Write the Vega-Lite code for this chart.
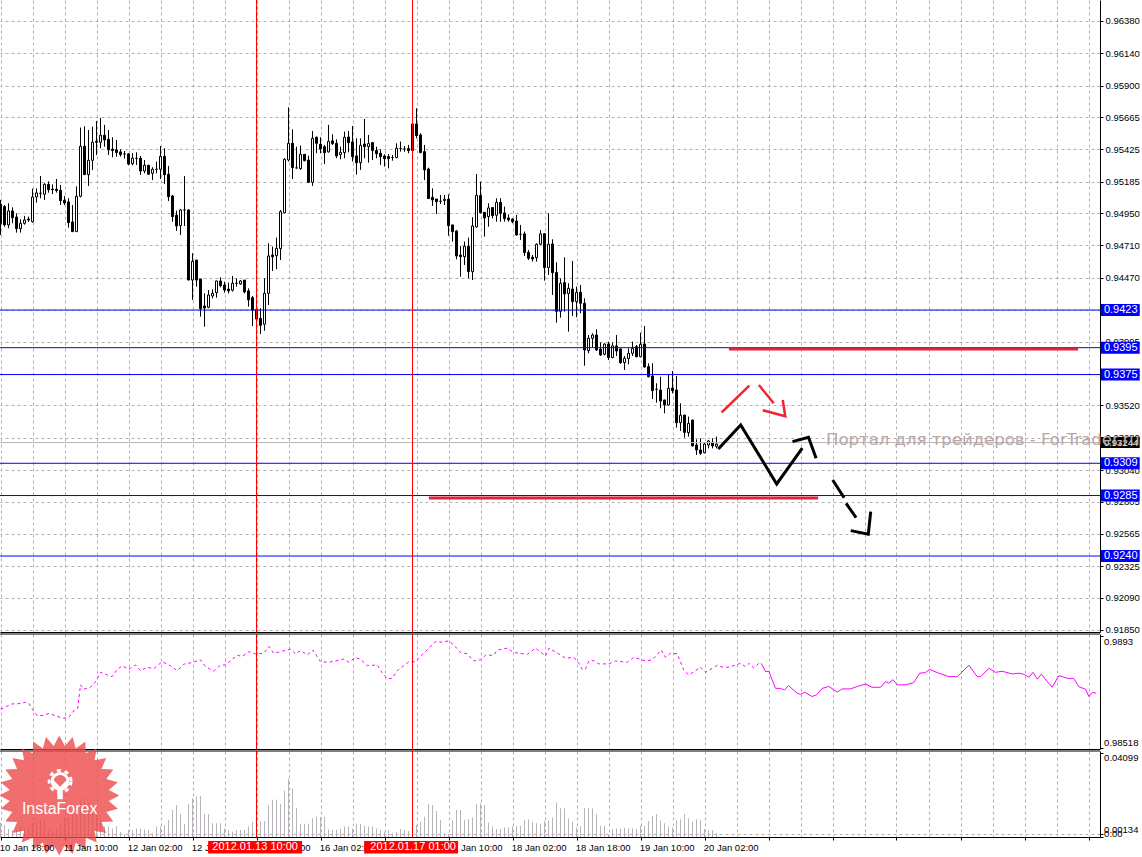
{"$schema":"https://vega.github.io/schema/vega-lite/v6.json","background":"#ffffff","padding":{"left":-2,"top":-1,"right":0,"bottom":0},"bounds":"flush","spacing":2,
"config":{"view":{"stroke":null},"font":"Liberation Sans","axis":{"labelFont":"Liberation Sans","labelFontSize":9.5,"labelColor":"#000000","title":null,"labelBound":false,"labelFlush":false}},
"datasets":{
"candles":[
{"i":0,"o":0.95016,"h":0.95049,"l":0.94788,"c":0.94875,"v":0.007},
{"i":1,"o":0.94999,"h":0.95011,"l":0.9485,"c":0.94863,"v":0.0059},
{"i":2,"o":0.94863,"h":0.95024,"l":0.94838,"c":0.94967,"v":0.0039},
{"i":3,"o":0.94967,"h":0.94994,"l":0.94875,"c":0.94917,"v":0.0034},
{"i":4,"o":0.94922,"h":0.94949,"l":0.94806,"c":0.94835,"v":0.0034},
{"i":5,"o":0.94835,"h":0.94905,"l":0.94806,"c":0.94875,"v":0.0051},
{"i":6,"o":0.94875,"h":0.9493,"l":0.94865,"c":0.949,"v":0.0037},
{"i":7,"o":0.94907,"h":0.94925,"l":0.94885,"c":0.949,"v":0.0042},
{"i":8,"o":0.94887,"h":0.95133,"l":0.9488,"c":0.95071,"v":0.0067},
{"i":9,"o":0.95071,"h":0.95135,"l":0.95029,"c":0.95101,"v":0.0075},
{"i":10,"o":0.95098,"h":0.95227,"l":0.95061,"c":0.95098,"v":0.0083},
{"i":11,"o":0.95091,"h":0.95173,"l":0.95049,"c":0.95165,"v":0.0083},
{"i":12,"o":0.95165,"h":0.95187,"l":0.95103,"c":0.95125,"v":0.0034},
{"i":13,"o":0.9513,"h":0.95165,"l":0.95093,"c":0.95125,"v":0.0026},
{"i":14,"o":0.95128,"h":0.95205,"l":0.95103,"c":0.95118,"v":0.0042},
{"i":15,"o":0.9512,"h":0.9516,"l":0.95011,"c":0.95044,"v":0.0067},
{"i":16,"o":0.95046,"h":0.95078,"l":0.95011,"c":0.95026,"v":0.0091},
{"i":17,"o":0.95034,"h":0.95061,"l":0.94843,"c":0.9488,"v":0.0099},
{"i":18,"o":0.94885,"h":0.95011,"l":0.94813,"c":0.94813,"v":0.0124},
{"i":19,"o":0.94813,"h":0.9515,"l":0.94813,"c":0.95076,"v":0.0148},
{"i":20,"o":0.95076,"h":0.95587,"l":0.95068,"c":0.95448,"v":0.0189},
{"i":21,"o":0.95448,"h":0.95597,"l":0.95235,"c":0.95237,"v":0.0189},
{"i":22,"o":0.95237,"h":0.95569,"l":0.95153,"c":0.95344,"v":0.0165},
{"i":23,"o":0.95344,"h":0.95594,"l":0.95272,"c":0.95478,"v":0.0124},
{"i":24,"o":0.95485,"h":0.95636,"l":0.95383,"c":0.95478,"v":0.0108},
{"i":25,"o":0.95478,"h":0.95659,"l":0.95433,"c":0.9553,"v":0.0091},
{"i":26,"o":0.9553,"h":0.95607,"l":0.95445,"c":0.95495,"v":0.0051},
{"i":27,"o":0.955,"h":0.95569,"l":0.95383,"c":0.95421,"v":0.0051},
{"i":28,"o":0.95426,"h":0.95515,"l":0.95366,"c":0.95416,"v":0.0042},
{"i":29,"o":0.95421,"h":0.95495,"l":0.95371,"c":0.95401,"v":0.0051},
{"i":30,"o":0.95406,"h":0.95426,"l":0.95371,"c":0.95386,"v":0.0026},
{"i":31,"o":0.95391,"h":0.95413,"l":0.95356,"c":0.95391,"v":0.0015},
{"i":32,"o":0.95391,"h":0.95396,"l":0.95307,"c":0.95316,"v":0.0034},
{"i":33,"o":0.95319,"h":0.95396,"l":0.95307,"c":0.95359,"v":0.0034},
{"i":34,"o":0.95359,"h":0.95403,"l":0.95309,"c":0.95359,"v":0.0042},
{"i":35,"o":0.95359,"h":0.95376,"l":0.95235,"c":0.95264,"v":0.0042},
{"i":36,"o":0.95264,"h":0.95346,"l":0.95247,"c":0.95307,"v":0.0037},
{"i":37,"o":0.95307,"h":0.95309,"l":0.95235,"c":0.9524,"v":0.0034},
{"i":38,"o":0.95247,"h":0.95292,"l":0.95197,"c":0.95277,"v":0.0018},
{"i":39,"o":0.95277,"h":0.95334,"l":0.95247,"c":0.95277,"v":0.0051},
{"i":40,"o":0.95277,"h":0.9545,"l":0.95205,"c":0.95373,"v":0.0051},
{"i":41,"o":0.95373,"h":0.95433,"l":0.95168,"c":0.95237,"v":0.0059},
{"i":42,"o":0.9524,"h":0.95302,"l":0.95041,"c":0.95073,"v":0.0083},
{"i":43,"o":0.95078,"h":0.95086,"l":0.94887,"c":0.94925,"v":0.0132},
{"i":44,"o":0.94935,"h":0.94969,"l":0.94818,"c":0.94855,"v":0.0156},
{"i":45,"o":0.94858,"h":0.94982,"l":0.94788,"c":0.94974,"v":0.0112},
{"i":46,"o":0.94974,"h":0.95227,"l":0.94855,"c":0.94974,"v":0.0064},
{"i":47,"o":0.94974,"h":0.94979,"l":0.94453,"c":0.94453,"v":0.0161},
{"i":48,"o":0.94453,"h":0.94652,"l":0.94305,"c":0.94592,"v":0.0189},
{"i":49,"o":0.94602,"h":0.94602,"l":0.94404,"c":0.94453,"v":0.0197},
{"i":50,"o":0.94461,"h":0.94461,"l":0.94181,"c":0.9424,"v":0.02},
{"i":51,"o":0.9426,"h":0.94354,"l":0.94106,"c":0.94245,"v":0.0112},
{"i":52,"o":0.9425,"h":0.94379,"l":0.94243,"c":0.94342,"v":0.0112},
{"i":53,"o":0.94334,"h":0.94384,"l":0.94317,"c":0.94354,"v":0.0067},
{"i":54,"o":0.94359,"h":0.94448,"l":0.94322,"c":0.94446,"v":0.0067},
{"i":55,"o":0.94446,"h":0.94473,"l":0.94399,"c":0.94411,"v":0.0067},
{"i":56,"o":0.94416,"h":0.94441,"l":0.94359,"c":0.94379,"v":0.0042},
{"i":57,"o":0.94386,"h":0.94434,"l":0.94354,"c":0.94372,"v":0.0034},
{"i":58,"o":0.94377,"h":0.94483,"l":0.94367,"c":0.94429,"v":0.0026},
{"i":59,"o":0.94429,"h":0.94466,"l":0.94404,"c":0.94429,"v":0.0034},
{"i":60,"o":0.94424,"h":0.94453,"l":0.94416,"c":0.94446,"v":0.0034},
{"i":61,"o":0.94453,"h":0.94453,"l":0.94354,"c":0.94364,"v":0.0034},
{"i":62,"o":0.94372,"h":0.94391,"l":0.94255,"c":0.94305,"v":0.0051},
{"i":63,"o":0.94322,"h":0.94334,"l":0.94111,"c":0.9423,"v":0.0073},
{"i":64,"o":0.94235,"h":0.94255,"l":0.94119,"c":0.94163,"v":0.0026},
{"i":65,"o":0.94168,"h":0.94243,"l":0.94052,"c":0.94116,"v":0.0078},
{"i":66,"o":0.94124,"h":0.94466,"l":0.94076,"c":0.94354,"v":0.0078},
{"i":67,"o":0.94354,"h":0.94726,"l":0.94267,"c":0.94632,"v":0.0153},
{"i":68,"o":0.94639,"h":0.94701,"l":0.9452,"c":0.94627,"v":0.0181},
{"i":69,"o":0.94634,"h":0.94768,"l":0.94533,"c":0.94689,"v":0.0181},
{"i":70,"o":0.94687,"h":0.94974,"l":0.94602,"c":0.94962,"v":0.0161},
{"i":71,"o":0.94954,"h":0.95359,"l":0.94949,"c":0.95351,"v":0.0225},
{"i":72,"o":0.95346,"h":0.95738,"l":0.95334,"c":0.9547,"v":0.0284},
{"i":73,"o":0.9547,"h":0.95574,"l":0.95205,"c":0.95289,"v":0.0235},
{"i":74,"o":0.95287,"h":0.95445,"l":0.95282,"c":0.95287,"v":0.014},
{"i":75,"o":0.95282,"h":0.95453,"l":0.95272,"c":0.95388,"v":0.0064},
{"i":76,"o":0.95388,"h":0.95388,"l":0.95336,"c":0.95341,"v":0.0064},
{"i":77,"o":0.95346,"h":0.95378,"l":0.95175,"c":0.9518,"v":0.0064},
{"i":78,"o":0.9518,"h":0.95562,"l":0.95153,"c":0.95507,"v":0.0091},
{"i":79,"o":0.95515,"h":0.9552,"l":0.95396,"c":0.9547,"v":0.0099},
{"i":80,"o":0.95463,"h":0.95515,"l":0.95396,"c":0.95428,"v":0.0099},
{"i":81,"o":0.95445,"h":0.95458,"l":0.95316,"c":0.95401,"v":0.0099},
{"i":82,"o":0.95406,"h":0.95607,"l":0.95401,"c":0.95485,"v":0.0037},
{"i":83,"o":0.95488,"h":0.95537,"l":0.95458,"c":0.95468,"v":0.0034},
{"i":84,"o":0.9547,"h":0.955,"l":0.95359,"c":0.95376,"v":0.0037},
{"i":85,"o":0.95386,"h":0.95445,"l":0.95351,"c":0.95403,"v":0.0041},
{"i":86,"o":0.95401,"h":0.95557,"l":0.95359,"c":0.95515,"v":0.0051},
{"i":87,"o":0.95517,"h":0.95562,"l":0.95403,"c":0.95475,"v":0.0051},
{"i":88,"o":0.9548,"h":0.95599,"l":0.95334,"c":0.95371,"v":0.0042},
{"i":89,"o":0.95376,"h":0.95507,"l":0.95237,"c":0.95326,"v":0.0064},
{"i":90,"o":0.95326,"h":0.95507,"l":0.95272,"c":0.95455,"v":0.0064},
{"i":91,"o":0.95465,"h":0.95651,"l":0.95359,"c":0.95445,"v":0.0054},
{"i":92,"o":0.95445,"h":0.95532,"l":0.95326,"c":0.95468,"v":0.0051},
{"i":93,"o":0.95475,"h":0.95475,"l":0.95346,"c":0.95416,"v":0.0051},
{"i":94,"o":0.95416,"h":0.95445,"l":0.95359,"c":0.95393,"v":0.0042},
{"i":95,"o":0.95396,"h":0.95426,"l":0.95309,"c":0.95371,"v":0.0034},
{"i":96,"o":0.95376,"h":0.95388,"l":0.95297,"c":0.95356,"v":0.0026},
{"i":97,"o":0.95371,"h":0.95391,"l":0.95284,"c":0.95356,"v":0.0034},
{"i":98,"o":0.95364,"h":0.95383,"l":0.95341,"c":0.95364,"v":0.0018},
{"i":99,"o":0.95364,"h":0.9547,"l":0.95359,"c":0.95433,"v":0.0026},
{"i":100,"o":0.95431,"h":0.95483,"l":0.95408,"c":0.95431,"v":0.0039},
{"i":101,"o":0.95428,"h":0.9545,"l":0.95408,"c":0.95428,"v":0.0034},
{"i":102,"o":0.95431,"h":0.95458,"l":0.95396,"c":0.95416,"v":0.0029},
{"i":103,"o":0.95416,"h":0.95614,"l":0.95416,"c":0.95614,"v":0.0018},
{"i":104,"o":0.95614,"h":0.95731,"l":0.95507,"c":0.95527,"v":0.0059},
{"i":105,"o":0.95532,"h":0.95545,"l":0.95396,"c":0.95401,"v":0.0075},
{"i":106,"o":0.95408,"h":0.95458,"l":0.95197,"c":0.95272,"v":0.0099},
{"i":107,"o":0.95279,"h":0.95289,"l":0.95059,"c":0.95059,"v":0.0161},
{"i":108,"o":0.95068,"h":0.95135,"l":0.95004,"c":0.95049,"v":0.0156},
{"i":109,"o":0.95056,"h":0.95056,"l":0.94944,"c":0.95036,"v":0.0127},
{"i":110,"o":0.95039,"h":0.95086,"l":0.95019,"c":0.95039,"v":0.0083},
{"i":111,"o":0.95044,"h":0.95086,"l":0.95011,"c":0.95054,"v":0.0018},
{"i":112,"o":0.95054,"h":0.95091,"l":0.94783,"c":0.94858,"v":0.0015},
{"i":113,"o":0.94863,"h":0.94863,"l":0.94739,"c":0.94813,"v":0.0083},
{"i":114,"o":0.94818,"h":0.94825,"l":0.94607,"c":0.94632,"v":0.0132},
{"i":115,"o":0.94639,"h":0.94706,"l":0.94478,"c":0.94627,"v":0.0132},
{"i":116,"o":0.94627,"h":0.94739,"l":0.94565,"c":0.94704,"v":0.0083},
{"i":117,"o":0.94704,"h":0.94768,"l":0.94466,"c":0.94515,"v":0.0088},
{"i":118,"o":0.94515,"h":0.9492,"l":0.94453,"c":0.94855,"v":0.0095},
{"i":119,"o":0.94848,"h":0.95242,"l":0.94843,"c":0.95083,"v":0.0161},
{"i":120,"o":0.95081,"h":0.95185,"l":0.94949,"c":0.94954,"v":0.0165},
{"i":121,"o":0.94957,"h":0.94957,"l":0.94776,"c":0.94915,"v":0.0156},
{"i":122,"o":0.94925,"h":0.95024,"l":0.9485,"c":0.94989,"v":0.007},
{"i":123,"o":0.94992,"h":0.94992,"l":0.94912,"c":0.94932,"v":0.0051},
{"i":124,"o":0.94935,"h":0.95061,"l":0.94887,"c":0.95031,"v":0.0039},
{"i":125,"o":0.95031,"h":0.95061,"l":0.94887,"c":0.94949,"v":0.0039},
{"i":126,"o":0.94952,"h":0.94999,"l":0.94887,"c":0.9491,"v":0.0046},
{"i":127,"o":0.94915,"h":0.94942,"l":0.94887,"c":0.949,"v":0.0046},
{"i":128,"o":0.94907,"h":0.94912,"l":0.94875,"c":0.94887,"v":0.0051},
{"i":129,"o":0.94892,"h":0.94937,"l":0.94783,"c":0.94788,"v":0.0054},
{"i":130,"o":0.94793,"h":0.94863,"l":0.94751,"c":0.94793,"v":0.0054},
{"i":131,"o":0.94796,"h":0.94813,"l":0.94632,"c":0.94657,"v":0.0083},
{"i":132,"o":0.94659,"h":0.94677,"l":0.94602,"c":0.94615,"v":0.0086},
{"i":133,"o":0.94622,"h":0.94639,"l":0.9459,"c":0.9461,"v":0.0072},
{"i":134,"o":0.9462,"h":0.94726,"l":0.9459,"c":0.94719,"v":0.0067},
{"i":135,"o":0.94719,"h":0.94825,"l":0.94714,"c":0.94796,"v":0.0064},
{"i":136,"o":0.94798,"h":0.94801,"l":0.94448,"c":0.94545,"v":0.0078},
{"i":137,"o":0.94545,"h":0.94949,"l":0.94491,"c":0.94719,"v":0.008},
{"i":138,"o":0.94721,"h":0.94756,"l":0.94342,"c":0.94508,"v":0.0095},
{"i":139,"o":0.9451,"h":0.94585,"l":0.94136,"c":0.9422,"v":0.0168},
{"i":140,"o":0.9422,"h":0.94466,"l":0.94173,"c":0.94429,"v":0.014},
{"i":141,"o":0.94434,"h":0.94622,"l":0.94218,"c":0.94349,"v":0.014},
{"i":142,"o":0.94352,"h":0.94429,"l":0.94069,"c":0.94391,"v":0.009},
{"i":143,"o":0.94386,"h":0.94595,"l":0.94186,"c":0.94292,"v":0.0073},
{"i":144,"o":0.94292,"h":0.94404,"l":0.94176,"c":0.94362,"v":0.0046},
{"i":145,"o":0.94362,"h":0.94416,"l":0.94206,"c":0.9428,"v":0.0051},
{"i":146,"o":0.9428,"h":0.94317,"l":0.93816,"c":0.93933,"v":0.014},
{"i":147,"o":0.93928,"h":0.94044,"l":0.93908,"c":0.9402,"v":0.0142},
{"i":148,"o":0.9402,"h":0.94057,"l":0.93953,"c":0.94044,"v":0.014},
{"i":149,"o":0.94044,"h":0.94087,"l":0.93925,"c":0.93933,"v":0.0112},
{"i":150,"o":0.9394,"h":0.9399,"l":0.93888,"c":0.93896,"v":0.0055},
{"i":151,"o":0.93901,"h":0.93982,"l":0.93893,"c":0.93977,"v":0.0055},
{"i":152,"o":0.93977,"h":0.93995,"l":0.93858,"c":0.93876,"v":0.0015},
{"i":153,"o":0.93876,"h":0.93987,"l":0.93871,"c":0.93963,"v":0.0039},
{"i":154,"o":0.93963,"h":0.94044,"l":0.93888,"c":0.93925,"v":0.0042},
{"i":155,"o":0.9394,"h":0.93945,"l":0.93829,"c":0.93839,"v":0.0042},
{"i":156,"o":0.93839,"h":0.93888,"l":0.93784,"c":0.93871,"v":0.0044},
{"i":157,"o":0.93868,"h":0.93945,"l":0.93826,"c":0.93908,"v":0.0042},
{"i":158,"o":0.93908,"h":0.93995,"l":0.93888,"c":0.93945,"v":0.0041},
{"i":159,"o":0.93958,"h":0.9397,"l":0.93878,"c":0.93883,"v":0.0039},
{"i":160,"o":0.93883,"h":0.94062,"l":0.93878,"c":0.93975,"v":0.0054},
{"i":161,"o":0.93977,"h":0.94111,"l":0.93801,"c":0.93806,"v":0.0055},
{"i":162,"o":0.93809,"h":0.93834,"l":0.93729,"c":0.93734,"v":0.0078},
{"i":163,"o":0.93739,"h":0.93834,"l":0.93568,"c":0.9363,"v":0.0103},
{"i":164,"o":0.9364,"h":0.93685,"l":0.93541,"c":0.9364,"v":0.0112},
{"i":165,"o":0.93635,"h":0.93734,"l":0.93499,"c":0.93553,"v":0.008},
{"i":166,"o":0.93561,"h":0.93561,"l":0.93462,"c":0.93524,"v":0.0067},
{"i":167,"o":0.93524,"h":0.93754,"l":0.93519,"c":0.93648,"v":0.0051},
{"i":168,"o":0.9365,"h":0.93777,"l":0.9361,"c":0.9363,"v":0.0046},
{"i":169,"o":0.93635,"h":0.93739,"l":0.93355,"c":0.93392,"v":0.0083},
{"i":170,"o":0.93392,"h":0.93536,"l":0.9333,"c":0.93447,"v":0.0086},
{"i":171,"o":0.93449,"h":0.93449,"l":0.93281,"c":0.9332,"v":0.0112},
{"i":172,"o":0.93318,"h":0.93437,"l":0.93288,"c":0.93387,"v":0.0091},
{"i":173,"o":0.93412,"h":0.93412,"l":0.93214,"c":0.93219,"v":0.0075},
{"i":174,"o":0.93226,"h":0.93268,"l":0.93152,"c":0.93189,"v":0.0086},
{"i":175,"o":0.93189,"h":0.93276,"l":0.93152,"c":0.93164,"v":0.0083},
{"i":176,"o":0.93169,"h":0.93246,"l":0.93164,"c":0.93233,"v":0.0039},
{"i":177,"o":0.93226,"h":0.93263,"l":0.93201,"c":0.93256,"v":0.0034},
{"i":178,"o":0.93246,"h":0.93276,"l":0.93201,"c":0.93219,"v":0.0034},
{"i":179,"o":0.93216,"h":0.93288,"l":0.93201,"c":0.93233,"v":0.0018}
],
"levels":[{"p":0.9423,"t":"0.9423","a":275.1,"b":284.8},{"p":0.9395,"t":"0.9395","a":275.1,"b":284.8},{"p":0.9375,"t":"0.9375","a":275.1,"b":284.8},{"p":0.9309,"t":"0.9309","a":275.1,"b":284.8},{"p":0.9285,"t":"0.9285","a":275.1,"b":284.8},{"p":0.924,"t":"0.9240","a":275.1,"b":284.8}],
"redbars":[{"s":"a","i":182.1,"p":0.9394},{"s":"a","i":269.4,"p":0.9394},{"s":"b","i":107.1,"p":0.92832},{"s":"b","i":204.4,"p":0.92832}],
"redsegs":[{"s":"a","n":1,"i":180.3,"p":0.93469},{"s":"a","n":2,"i":187.2,"p":0.93667},{"s":"b","n":1,"i":189.6,"p":0.93672},{"s":"b","n":2,"i":193.3,"p":0.93536},{"s":"c","n":1,"i":190.55,"p":0.93484},{"s":"c","n":2,"i":196.2,"p":0.9344},{"s":"c","n":3,"i":195.55,"p":0.93561}],
"blacksegs":[{"s":"a","n":1,"i":179.45,"p":0.93196},{"s":"a","n":2,"i":185.05,"p":0.93375},{"s":"a","n":3,"i":194.05,"p":0.92936},{"s":"a","n":4,"i":200.45,"p":0.93202},{"s":"b","n":1,"i":198,"p":0.93251},{"s":"b","n":2,"i":202,"p":0.93283},{"s":"b","n":3,"i":203.9,"p":0.93127},{"s":"c","n":1,"i":208.05,"p":0.92966},{"s":"c","n":2,"i":210.9,"p":0.92834},{"s":"d","n":1,"i":211.4,"p":0.92792},{"s":"d","n":2,"i":213.9,"p":0.92685},{"s":"e","n":1,"i":212.55,"p":0.92589},{"s":"e","n":2,"i":216.95,"p":0.92562},{"s":"e","n":3,"i":217.55,"p":0.9273}],
"indD":[{"i":0,"v":0.9866},{"i":1.7,"v":0.98672},{"i":2.9,"v":0.9868},{"i":4.2,"v":0.9868},{"i":6.25,"v":0.98686},{"i":7.1,"v":0.98682},{"i":8.1,"v":0.98658},{"i":9.2,"v":0.98636},{"i":10.8,"v":0.98638},{"i":12.1,"v":0.98645},{"i":13.75,"v":0.98636},{"i":15.8,"v":0.98627},{"i":17.1,"v":0.98631},{"i":18.5,"v":0.98658},{"i":19.3,"v":0.98664},{"i":20,"v":0.9875},{"i":20.8,"v":0.98734},{"i":22.5,"v":0.98741},{"i":23.75,"v":0.98762},{"i":25,"v":0.98796},{"i":26.7,"v":0.98786},{"i":27.9,"v":0.9878},{"i":29.2,"v":0.98807},{"i":30.4,"v":0.9882},{"i":32.1,"v":0.98807},{"i":33.75,"v":0.98823},{"i":35,"v":0.98802},{"i":36.7,"v":0.98815},{"i":38.3,"v":0.98809},{"i":40.4,"v":0.98835},{"i":42.1,"v":0.98823},{"i":44.2,"v":0.98802},{"i":45.8,"v":0.98826},{"i":47.9,"v":0.98832},{"i":50,"v":0.98842},{"i":51.25,"v":0.98817},{"i":53.3,"v":0.98801},{"i":55,"v":0.98823},{"i":56.25,"v":0.98823},{"i":57.5,"v":0.98839},{"i":59.2,"v":0.98859},{"i":60.4,"v":0.98854},{"i":62.1,"v":0.98872},{"i":63.75,"v":0.98864},{"i":65.8,"v":0.98866},{"i":67.1,"v":0.98891},{"i":68.3,"v":0.98866},{"i":70.8,"v":0.98875},{"i":72.5,"v":0.98881},{"i":73.75,"v":0.98864},{"i":75,"v":0.98876},{"i":76.7,"v":0.9886},{"i":78.1,"v":0.98878},{"i":80,"v":0.98835},{"i":82.1,"v":0.98833},{"i":83.75,"v":0.98838},{"i":85.8,"v":0.98845},{"i":87.1,"v":0.98833},{"i":88.75,"v":0.98851},{"i":90,"v":0.98844},{"i":91.7,"v":0.98821},{"i":94.2,"v":0.98823},{"i":95.4,"v":0.98795},{"i":96.7,"v":0.98772},{"i":97.9,"v":0.98774},{"i":99.2,"v":0.98802},{"i":100,"v":0.98811},{"i":102.1,"v":0.98835},{"i":103.75,"v":0.98835},{"i":105.8,"v":0.98866},{"i":108.75,"v":0.98909},{"i":110.4,"v":0.98907},{"i":112.1,"v":0.98912},{"i":113.3,"v":0.98897},{"i":115,"v":0.98869},{"i":116.7,"v":0.98864},{"i":118.3,"v":0.98838},{"i":120,"v":0.98842},{"i":121.25,"v":0.98859},{"i":123.3,"v":0.98859},{"i":124.2,"v":0.98878},{"i":126.7,"v":0.98885},{"i":128.3,"v":0.98869},{"i":131.7,"v":0.98862},{"i":133.75,"v":0.98885},{"i":136.25,"v":0.98856},{"i":137.1,"v":0.98885},{"i":140,"v":0.9886},{"i":141.25,"v":0.98848},{"i":143.3,"v":0.98851},{"i":144.6,"v":0.98829},{"i":145.4,"v":0.98807},{"i":146.25,"v":0.98807},{"i":147.1,"v":0.98838},{"i":148.3,"v":0.98839},{"i":149.6,"v":0.98827},{"i":152.1,"v":0.98827},{"i":153.75,"v":0.98838},{"i":156.7,"v":0.98833},{"i":158.3,"v":0.98851},{"i":160,"v":0.98844},{"i":161.25,"v":0.98838},{"i":162.9,"v":0.98842},{"i":165.2,"v":0.98878},{"i":166.25,"v":0.98851},{"i":167.5,"v":0.98866},{"i":169.2,"v":0.98864},{"i":170.8,"v":0.98805},{"i":172.1,"v":0.98786},{"i":175,"v":0.98815},{"i":176.25,"v":0.98796},{"i":179.2,"v":0.98822},{"i":180.4,"v":0.98815},{"i":182.1,"v":0.98815},{"i":185,"v":0.98829},{"i":186.25,"v":0.98817},{"i":187.1,"v":0.98829},{"i":188.3,"v":0.98813},{"i":189.6,"v":0.98829},{"i":190.2,"v":0.98829}],
"indS":[{"i":190.2,"v":0.98829},{"i":191.25,"v":0.98799},{"i":192.1,"v":0.98799},{"i":193.75,"v":0.98737},{"i":195,"v":0.98737},{"i":196,"v":0.98731},{"i":197,"v":0.98747},{"i":199.2,"v":0.98719},{"i":200,"v":0.98715},{"i":201,"v":0.98723},{"i":202.9,"v":0.98707},{"i":204,"v":0.98713},{"i":205.4,"v":0.98737},{"i":207.1,"v":0.98744},{"i":209.2,"v":0.98723},{"i":210.4,"v":0.98735},{"i":212.5,"v":0.98735},{"i":214.2,"v":0.98744},{"i":216.25,"v":0.98753},{"i":217.9,"v":0.98741},{"i":220,"v":0.98741},{"i":221.25,"v":0.98762},{"i":222.1,"v":0.98756},{"i":223.1,"v":0.98769},{"i":224.2,"v":0.9875},{"i":226.25,"v":0.9875},{"i":228.3,"v":0.98758},{"i":229.8,"v":0.98793},{"i":231.25,"v":0.98795},{"i":232.25,"v":0.98807},{"i":234.2,"v":0.98795},{"i":237.1,"v":0.9878},{"i":239.2,"v":0.9878},{"i":242.1,"v":0.98822},{"i":244.2,"v":0.9878},{"i":245,"v":0.9878},{"i":247.1,"v":0.98811},{"i":248.75,"v":0.98796},{"i":250.4,"v":0.988},{"i":252.9,"v":0.9879},{"i":254.6,"v":0.98793},{"i":255.8,"v":0.98789},{"i":257.1,"v":0.98778},{"i":258.1,"v":0.98796},{"i":259.2,"v":0.98771},{"i":260.2,"v":0.98789},{"i":262.9,"v":0.98741},{"i":264.6,"v":0.98784},{"i":266.7,"v":0.98774},{"i":268.3,"v":0.98774},{"i":269.6,"v":0.98743},{"i":271.25,"v":0.98734},{"i":272.1,"v":0.98707},{"i":273.1,"v":0.98723},{"i":273.9,"v":0.98719}],
"xlabels":[{"i":-0.2,"t":"10 Jan 18:00"},{"i":15.8,"t":"11 Jan 10:00"},{"i":31.8,"t":"12 Jan 02:00"},{"i":47.8,"t":"12 Jan 18:00"},{"i":63.8,"t":"13 Jan 10:00"},{"i":79.8,"t":"16 Jan 02:00"},{"i":95.8,"t":"16 Jan 18:00"},{"i":111.8,"t":"17 Jan 10:00"},{"i":127.8,"t":"18 Jan 02:00"},{"i":143.8,"t":"18 Jan 18:00"},{"i":159.8,"t":"19 Jan 10:00"},{"i":175.8,"t":"20 Jan 02:00"}],
"xmarks":[{"a":51.9,"b":75.4,"m":63.65,"t":"2012.01.13 10:00","y0":0.89,"y1":0.19,"ym":0.53},{"a":90.9,"b":114.4,"m":103.15,"t":"2012.01.17 01:00","y0":0.89,"y1":0.19,"ym":0.53}]
},
"vconcat":[
{"width":1100,"height":632,
"layer":[
{"data":{"name":"candles"},"mark":{"type":"rule","color":"#000000","strokeWidth":1},
"encoding":{"x":{"field":"i","type":"quantitative","scale":{"domain":[-0.125,274.875],"nice":false,"zero":false,"padding":0},
"axis":{"orient":"bottom","tickCount":100,"values":[0,8,16,24,32,40,48,56,64,72,80,88,96,104,112,120,128,136,144,152,160,168,176,184,192,200,208,216,224,232,240,248,256,264,272],"labels":false,"ticks":false,"grid":true,"gridDash":[3,3],"gridColor":"#a9b5a9","domainColor":"#000000","domainWidth":1}},
"y":{"field":"l","type":"quantitative","scale":{"domain":[0.91835,0.96536],"nice":false,"zero":false},
"axis":{"orient":"right","tickCount":100,"values":[0.9638,0.9614,0.959,0.95665,0.95425,0.95185,0.9495,0.9471,0.9447,0.9423,0.93995,0.93755,0.9352,0.9328,0.9304,0.92805,0.92565,0.92325,0.9209,0.9185],"format":".5f","labelOverlap":false,"grid":true,"gridDash":[3,3],"gridColor":"#b8aeb0","tickColor":"#000000","tickSize":3,"labelPadding":2,"domainColor":"#000000","domainWidth":1}},
"y2":{"field":"h"}}},
{"data":{"name":"candles"},"mark":{"type":"bar","width":2,"stroke":"#000000","strokeWidth":1,"orient":"vertical"},
"encoding":{"x":{"field":"i","type":"quantitative"},"y":{"field":"o","type":"quantitative"},"y2":{"field":"c"},
"color":{"condition":{"test":"datum.c>datum.o","value":"#ffffff"},"value":"#000000"}}},
{"data":{"values":[{"p":0.93244}]},"mark":{"type":"rule","color":"#bdb4b4","strokeWidth":1},"encoding":{"y":{"field":"p","type":"quantitative"}}},
{"data":{"name":"levels"},"mark":{"type":"rule","color":"#0000ff","strokeWidth":1},"encoding":{"y":{"field":"p","type":"quantitative"}}},
{"data":{"name":"redbars"},"mark":{"type":"line","color":"#e4233b","strokeWidth":3},"encoding":{"x":{"field":"i","type":"quantitative"},"y":{"field":"p","type":"quantitative"},"detail":{"field":"s","type":"nominal"}}},
{"data":{"name":"redsegs"},"mark":{"type":"line","color":"#ee2433","strokeWidth":2.5},"encoding":{"x":{"field":"i","type":"quantitative"},"y":{"field":"p","type":"quantitative"},"detail":{"field":"s","type":"nominal"},"order":{"field":"n","type":"quantitative"}}},
{"data":{"name":"blacksegs"},"mark":{"type":"line","color":"#000000","strokeWidth":3},"encoding":{"x":{"field":"i","type":"quantitative"},"y":{"field":"p","type":"quantitative"},"detail":{"field":"s","type":"nominal"},"order":{"field":"n","type":"quantitative"}}},
{"data":{"name":"levels"},"mark":{"type":"rule","color":"#0000ff","strokeWidth":12,"clip":false},"encoding":{"x":{"field":"a","type":"quantitative"},"x2":{"field":"b"},"y":{"field":"p","type":"quantitative"}}},
{"data":{"name":"levels"},"mark":{"type":"text","color":"#ffffff","align":"left","baseline":"middle","dx":3,"fontSize":11,"font":"Liberation Sans","clip":false},"encoding":{"x":{"field":"a","type":"quantitative"},"y":{"field":"p","type":"quantitative"},"text":{"field":"t","type":"nominal"}}},
{"data":{"values":[{"p":0.93244,"t":"0.93244","a":275.1,"b":284.8}]},"mark":{"type":"rule","color":"#000000","strokeWidth":11,"clip":false},"encoding":{"x":{"field":"a","type":"quantitative"},"x2":{"field":"b"},"y":{"field":"p","type":"quantitative"}}},
{"data":{"values":[{"p":0.93244,"t":"0.93244","a":275.1}]},"mark":{"type":"text","color":"#ffffff","align":"left","baseline":"middle","dx":3,"fontSize":9.5,"font":"Liberation Sans","clip":false},"encoding":{"x":{"field":"a","type":"quantitative"},"y":{"field":"p","type":"quantitative"},"text":{"field":"t","type":"nominal"}}},
{"data":{"values":[{"p":0.93263,"a":206.4,"t":"Портал для трейдеров - ForTrader.ru"}]},"mark":{"type":"text","color":"#b5a8a8","align":"left","baseline":"middle","fontSize":16.5,"font":"DejaVu Sans","limit":315,"ellipsis":"","clip":false},"encoding":{"x":{"field":"a","type":"quantitative"},"y":{"field":"p","type":"quantitative"},"text":{"field":"t","type":"nominal"}}},
{"data":{"values":[{"i":64},{"i":103}]},"mark":{"type":"rule","color":"#ff0000","strokeWidth":1},"encoding":{"x":{"field":"i","type":"quantitative"}}}
]},
{"width":1100,"height":115,
"layer":[
{"data":{"name":"indD"},"mark":{"type":"line","color":"#ff00ff","strokeWidth":1,"strokeDash":[3,3]},
"encoding":{"x":{"field":"i","type":"quantitative","scale":{"domain":[-0.125,274.875],"nice":false,"zero":false,"padding":0},
"axis":{"orient":"bottom","tickCount":100,"values":[0,8,16,24,32,40,48,56,64,72,80,88,96,104,112,120,128,136,144,152,160,168,176,184,192,200,208,216,224,232,240,248,256,264,272],"labels":false,"ticks":false,"grid":true,"gridDash":[3,3],"gridColor":"#a9b5a9","domainColor":"#000000","domainWidth":1}},
"y":{"field":"v","type":"quantitative","scale":{"domain":[0.98514,0.98937],"nice":false,"zero":false},
"axis":{"orient":"right","values":[0.9893,0.98518],"labels":false,"grid":false,"tickColor":"#000000","tickSize":3,"domainColor":"#000000","domainWidth":1}}}},
{"data":{"name":"indS"},"mark":{"type":"line","color":"#ff00ff","strokeWidth":1},
"encoding":{"x":{"field":"i","type":"quantitative"},"y":{"field":"v","type":"quantitative"}}},
{"data":{"values":[{"i":64},{"i":103}]},"mark":{"type":"rule","color":"#ff0000","strokeWidth":1},"encoding":{"x":{"field":"i","type":"quantitative"}}},
{"data":{"values":[{"v":0.98937}]},"mark":{"type":"rule","color":"#000000","strokeWidth":1},"encoding":{"y":{"field":"v","type":"quantitative"}}},
{"data":{"values":[{"v":0.98909,"a":275.9,"t":"0.9893"},{"v":0.98536,"a":275.9,"t":"0.98518"}]},"mark":{"type":"text","color":"#000000","align":"left","baseline":"middle","fontSize":9.5,"font":"Liberation Sans","clip":false},"encoding":{"x":{"field":"a","type":"quantitative"},"y":{"field":"v","type":"quantitative"},"text":{"field":"t","type":"nominal"}}}
]},
{"width":1100,"height":86,
"layer":[
{"data":{"name":"candles"},"mark":{"type":"bar","color":"#b9b4b9","width":1,"orient":"vertical"},
"encoding":{"x":{"field":"i","type":"quantitative","scale":{"domain":[-0.125,274.875],"nice":false,"zero":false,"padding":0},
"axis":{"orient":"bottom","tickCount":100,"values":[0,8,16,24,32,40,48,56,64,72,80,88,96,104,112,120,128,136,144,152,160,168,176,184,192,200,208,216,224,232,240,248,256,264,272],"labels":false,"tickSize":3,"tickColor":{"condition":{"test":"datum.value % 16 === 0","value":"#000000"},"value":"transparent"},"grid":true,"gridDash":[3,3],"gridColor":"#a9b5a9","domainColor":"#000000","domainWidth":1}},
"y":{"field":"v","type":"quantitative","stack":null,"scale":{"domain":[0,0.0419],"nice":false,"zero":false},
"axis":{"orient":"right","tickCount":10,"values":[0.04099,0.00134,0],"labels":false,"grid":true,"gridDash":[3,3],"gridColor":{"condition":{"test":"datum.value === 0.00134","value":"#b8aeb0"},"value":"transparent"},"tickColor":"#000000","tickSize":3,"domainColor":"#000000","domainWidth":1}}}},
{"data":{"values":[{"i":64},{"i":103}]},"mark":{"type":"rule","color":"#ff0000","strokeWidth":1},"encoding":{"x":{"field":"i","type":"quantitative"}}},
{"data":{"values":[{"v":0.0419}]},"mark":{"type":"rule","color":"#000000","strokeWidth":1},"encoding":{"y":{"field":"v","type":"quantitative"}}},
{"data":{"values":[{"v":0.0385,"a":275.9,"t":"0.04099"},{"v":0.0032,"a":275.9,"t":"0.00134"},{"v":0.0015,"a":275.9,"t":"0.00"}]},"mark":{"type":"text","color":"#000000","align":"left","baseline":"middle","fontSize":9.5,"font":"Liberation Sans","clip":false},"encoding":{"x":{"field":"a","type":"quantitative"},"y":{"field":"v","type":"quantitative"},"text":{"field":"t","type":"nominal"}}},
{"data":{"values":[{"i":14.7,"v":0.02024}]},"mark":{"type":"point","filled":true,"color":"#ec4a4a","opacity":0.8,"size":14400,"clip":false,"shape":"M1,0 L.825,.093 L.975,.222 L.783,.274 L.901,.434 L.703,.442 L.782,.624 L.587,.587 L.624,.782 L.442,.703 L.434,.901 L.274,.783 L.222,.975 L.093,.825 L0,1 L-.093,.825 L-.222,.975 L-.274,.783 L-.434,.901 L-.442,.703 L-.624,.782 L-.587,.587 L-.782,.624 L-.703,.442 L-.901,.434 L-.783,.274 L-.975,.222 L-.825,.093 L-1,0 L-.825,-.093 L-.975,-.222 L-.783,-.274 L-.901,-.434 L-.703,-.442 L-.782,-.624 L-.587,-.587 L-.624,-.782 L-.442,-.703 L-.434,-.901 L-.274,-.783 L-.222,-.975 L-.093,-.825 L0,-1 L.093,-.825 L.222,-.975 L.274,-.783 L.434,-.901 L.442,-.703 L.624,-.782 L.587,-.587 L.782,-.624 L.703,-.442 L.901,-.434 L.783,-.274 L.975,-.222 L.825,-.093 Z"},
"encoding":{"x":{"field":"i","type":"quantitative"},"y":{"field":"v","type":"quantitative"}}},
{"data":{"values":[{"i":14.9,"v":0.0271}]},"mark":{"type":"point","filled":false,"color":"#ffffff","opacity":1,"strokeWidth":3,"size":250,"clip":false,"shape":"circle"},"encoding":{"x":{"field":"i","type":"quantitative"},"y":{"field":"v","type":"quantitative"}}},
{"data":{"values":[{"i":14.9,"v":0.0271}]},"mark":{"type":"point","filled":false,"color":"#ffffff","opacity":1,"strokeWidth":3,"strokeDash":[4,4],"size":480,"clip":false,"shape":"circle"},"encoding":{"x":{"field":"i","type":"quantitative"},"y":{"field":"v","type":"quantitative"}}},
{"data":{"values":[{"i":14.9,"v":0.0248}]},"mark":{"type":"point","filled":true,"color":"#ffffff","opacity":1,"size":700,"clip":false,"shape":"M-.7,-.4 L-.45,-.4 L0,.05 L.45,-.4 L.7,-.4 L.2,.2 L.2,1 L-.2,1 L-.2,.2 Z"},"encoding":{"x":{"field":"i","type":"quantitative"},"y":{"field":"v","type":"quantitative"}}},
{"data":{"values":[{"i":14.8,"v":0.0137,"t":"InstaForex"}]},"mark":{"type":"text","color":"#ffffff","align":"center","baseline":"middle","fontSize":16,"font":"Liberation Sans","clip":false},"encoding":{"x":{"field":"i","type":"quantitative"},"y":{"field":"v","type":"quantitative"},"text":{"field":"t","type":"nominal"}}}
]},
{"width":1100,"height":18,
"layer":[
{"data":{"name":"xlabels"},"mark":{"type":"text","color":"#000000","align":"left","baseline":"middle","fontSize":9.5,"font":"Liberation Sans"},
"encoding":{"x":{"field":"i","type":"quantitative","scale":{"domain":[-0.125,274.875],"nice":false,"zero":false,"padding":0},"axis":null},"y":{"datum":0.5,"type":"quantitative","scale":{"domain":[0,1],"nice":false},"axis":null},"text":{"field":"t","type":"nominal"}}},
{"data":{"name":"xmarks"},"mark":{"type":"rect","color":"#ff0000"},"encoding":{"x":{"field":"a","type":"quantitative"},"x2":{"field":"b"},"y":{"field":"y0","type":"quantitative"},"y2":{"field":"y1"}}},
{"data":{"name":"xmarks"},"mark":{"type":"text","color":"#ffffff","align":"center","baseline":"middle","fontSize":11,"font":"Liberation Sans"},"encoding":{"x":{"field":"m","type":"quantitative"},"y":{"field":"ym","type":"quantitative"},"text":{"field":"t","type":"nominal"}}}
]}
]}
